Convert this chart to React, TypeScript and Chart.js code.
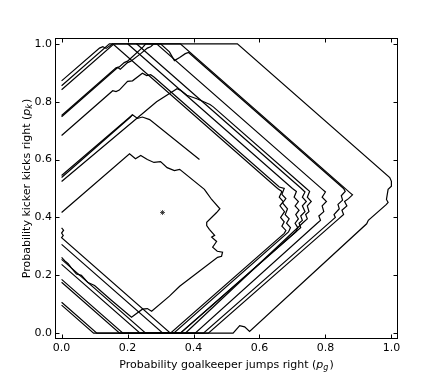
import React, { useEffect, useRef } from 'react';
import { Chart, registerables } from 'chart.js';
Chart.register(...registerables);

type P = [number, number];

const xTicks = [0, 0.2, 0.4, 0.6, 0.8, 1.0];
const yTicks = [0, 0.2, 0.4, 0.6, 0.8, 1.0];
const xLabel = 'Probability goalkeeper jumps right (';
const xSym = ['p', 'g'];
const yLabel = 'Probability kicker kicks right (';
const ySym = ['p', 'k'];

const equilibrium: P[] = [[0.306, 0.417]];

const path1: P[] = [[0, 0.855], [0.145, 1.0], [0.533, 1.0], [0.995, 0.538], [1.0, 0.525], [1.0, 0.508], [0.99, 0.497], [0.985, 0.462], [0.99, 0.452], [0.985, 0.445], [0.93, 0.39], [0.925, 0.378], [0.57, 0.006], [0.555, 0.022], [0.54, 0.026], [0.52, 0.0], [0.33, 0.0], [0, 0.33], [0.005, 0.338], [0, 0.346], [0.006, 0.356], [0, 0.364]];
const path2: P[] = [[0, 0.872], [0.115, 0.985], [0.125, 0.99], [0.135, 0.984], [0.155, 1.0], [0.655, 0.5], [0.668, 0.49], [0.66, 0.47], [0.672, 0.455], [0.662, 0.44], [0.676, 0.42], [0.664, 0.4], [0.675, 0.385], [0.668, 0.37], [0.68, 0.355], [0.675, 0.345], [0.33, 0.0], [0.238, 0.0], [0, 0.238]];
const path3: P[] = [[0, 0.841], [0.159, 1.0], [0.36, 1.0], [0.875, 0.485], [0.882, 0.478], [0.87, 0.465], [0.858, 0.455], [0.865, 0.44], [0.85, 0.425], [0.855, 0.41], [0.84, 0.395], [0.445, 0.0], [0.307, 0.0], [0, 0.307]];
const path4: P[] = [[0, 0.748], [0.17, 0.918], [0.178, 0.912], [0.2, 0.935], [0.21, 0.94], [0.24, 0.966], [0.26, 0.985], [0.27, 0.99], [0.28, 1.0], [0.3, 1.0], [0.327, 0.972], [0.342, 0.942], [0.358, 0.953], [0.375, 0.966], [0.385, 0.97], [0.855, 0.5], [0.86, 0.49], [0.848, 0.475], [0.852, 0.46], [0.838, 0.445], [0.842, 0.43], [0.826, 0.41], [0.83, 0.4], [0.82, 0.39], [0.43, 0.0], [0.186, 0.0], [0, 0.186]];
const path5: P[] = [[0, 0.752], [0.165, 0.917], [0.175, 0.92], [0.19, 0.935], [0.2, 0.94], [0.248, 0.99], [0.255, 1.0], [0.288, 1.0], [0.79, 0.498], [0.8, 0.488], [0.79, 0.47], [0.803, 0.455], [0.79, 0.44], [0.795, 0.42], [0.78, 0.405], [0.785, 0.39], [0.775, 0.38], [0.405, 0.0], [0.176, 0.0], [0, 0.176]];
const path6: P[] = [[0, 0.683], [0.155, 0.838], [0.165, 0.835], [0.175, 0.84], [0.2, 0.87], [0.215, 0.872], [0.245, 0.898], [0.258, 0.89], [0.27, 0.893], [0.28, 0.885], [0.33, 0.835], [0.66, 0.505], [0.675, 0.5], [0.668, 0.48], [0.68, 0.465], [0.67, 0.45], [0.685, 0.43], [0.678, 0.41], [0.69, 0.395], [0.682, 0.38], [0.694, 0.365], [0.688, 0.35], [0.34, 0.0], [0.107, 0.0], [0, 0.107]];
const path7: P[] = [[0, 0.545], [0.215, 0.755], [0.23, 0.742], [0.245, 0.747], [0.267, 0.738], [0.418, 0.6]];
const path8: P[] = [[0, 0.538], [0.208, 0.746], [0.215, 0.755]];
const path9: P[] = [[0, 0.524], [0.288, 0.8], [0.35, 0.845], [0.36, 0.84], [0.38, 0.822], [0.41, 0.81], [0.45, 0.79], [0.46, 0.782], [0.742, 0.5], [0.752, 0.49], [0.745, 0.47], [0.757, 0.455], [0.745, 0.44], [0.75, 0.42], [0.74, 0.41], [0.745, 0.395], [0.735, 0.385], [0.375, 0.0]];
const path10: P[] = [[0, 0.417], [0.206, 0.62], [0.224, 0.603], [0.24, 0.614], [0.26, 0.6], [0.28, 0.59], [0.3, 0.593], [0.32, 0.572], [0.342, 0.562], [0.358, 0.566], [0.433, 0.497], [0.44, 0.486], [0.455, 0.462], [0.48, 0.43], [0.47, 0.417], [0.44, 0.383], [0.44, 0.372], [0.448, 0.359], [0.464, 0.338], [0.455, 0.332], [0.47, 0.317], [0.458, 0.297], [0.472, 0.283], [0.488, 0.28], [0.485, 0.266], [0.473, 0.262], [0.358, 0.162], [0.327, 0.128], [0.273, 0.076], [0.26, 0.085], [0.245, 0.083], [0.212, 0.055], [0.15, 0.115], [0.1, 0.165], [0.08, 0.175], [0.06, 0.2], [0.045, 0.205], [0.03, 0.225], [0.02, 0.24], [0.01, 0.25], [0, 0.262]];
const path11: P[] = [[0.2, 1.0], [0.7, 0.5], [0.712, 0.49], [0.705, 0.47], [0.718, 0.455], [0.708, 0.44], [0.72, 0.425], [0.71, 0.41], [0.718, 0.395], [0.708, 0.38], [0.716, 0.365], [0.71, 0.35], [0.36, 0.0], [0.097, 0.0], [0, 0.097]];
const path12: P[] = [[0.227, 1.0], [0.727, 0.5], [0.738, 0.488], [0.73, 0.47], [0.742, 0.455], [0.73, 0.44], [0.738, 0.42], [0.725, 0.405], [0.73, 0.39], [0.72, 0.38], [0.725, 0.365], [0.715, 0.355], [0.36, 0.0], [0.255, 0.0], [0, 0.255]];

const paths: P[][] = [path1, path2, path3, path4, path5, path6, path7, path8, path9, path10, path11, path12];

const FONT = '"DejaVu Sans", sans-serif';

function drawMixed(ctx: CanvasRenderingContext2D, text: string, sym: string[], cx: number, cy: number) {
  ctx.font = `11px ${FONT}`;
  const w1 = ctx.measureText(text).width;
  ctx.font = `italic 11px ${FONT}`;
  const w2 = ctx.measureText(sym[0]).width;
  ctx.font = `italic 8px ${FONT}`;
  const w3 = ctx.measureText(sym[1]).width;
  ctx.font = `11px ${FONT}`;
  const w4 = ctx.measureText(')').width;
  const total = w1 + w2 + w3 + w4 + 1;
  let x = cx - total / 2;
  ctx.textBaseline = 'middle';
  ctx.textAlign = 'left';
  ctx.font = `11px ${FONT}`;
  ctx.fillText(text, x, cy);
  x += w1;
  ctx.font = `italic 11px ${FONT}`;
  ctx.fillText(sym[0], x, cy);
  x += w2;
  ctx.font = `italic 8px ${FONT}`;
  ctx.fillText(sym[1], x, cy + 3);
  x += w3 + 1;
  ctx.font = `11px ${FONT}`;
  ctx.fillText(')', x, cy);
}

const framePlugin = {
  id: 'frame',
  afterDraw(chart: any) {
    const { ctx, chartArea: a, scales } = chart;
    ctx.save();
    ctx.strokeStyle = '#000';
    ctx.lineWidth = 1;
    const L = Math.round(a.left) + 0.5;
    const R = Math.round(a.right) - 0.5;
    const T = Math.round(a.top) + 0.5;
    const B = Math.round(a.bottom) - 0.5;
    ctx.strokeRect(L, T, R - L, B - T);
    ctx.beginPath();
    for (const v of xTicks) {
      const px = Math.round(scales.x.getPixelForValue(v)) + 0.5;
      ctx.moveTo(px, B); ctx.lineTo(px, B - 4);
      ctx.moveTo(px, T); ctx.lineTo(px, T + 4);
    }
    for (const v of yTicks) {
      const py = Math.round(scales.y.getPixelForValue(v)) + 0.5;
      ctx.moveTo(L, py); ctx.lineTo(L + 4, py);
      ctx.moveTo(R, py); ctx.lineTo(R - 4, py);
    }
    ctx.stroke();
    ctx.fillStyle = '#000';
    drawMixed(ctx, xLabel, xSym, (a.left + a.right) / 2, 365);
    ctx.translate(27, (a.top + a.bottom) / 2);
    ctx.rotate(-Math.PI / 2);
    drawMixed(ctx, yLabel, ySym, 0, 0);
    ctx.restore();
  },
};

export default function App() {
  const ref = useRef<HTMLCanvasElement | null>(null);
  useEffect(() => {
    if (!ref.current) return;
    const datasets: any[] = paths.map((p) => ({
      data: p.map(([x, y]) => ({ x, y })),
      showLine: true,
      borderColor: '#000',
      borderWidth: 1.2,
      pointRadius: 0,
      fill: false,
      tension: 0,
    }));
    datasets.push({
      data: equilibrium.map(([x, y]) => ({ x, y })),
      showLine: false,
      pointStyle: 'star',
      pointRadius: 2.5,
      borderColor: '#222',
      borderWidth: 0.8,
      backgroundColor: '#222',
    });
    const chart = new Chart(ref.current, {
      type: 'scatter',
      data: { datasets },
      options: {
        animation: false,
        responsive: false,
        maintainAspectRatio: false,
        layout: { padding: { top: 38, right: 44, left: 0, bottom: 0 } },
        plugins: { legend: { display: false }, tooltip: { enabled: false } },
        scales: {
          x: {
            type: 'linear',
            min: -0.02,
            max: 1.02,
            grid: { display: false, drawTicks: false },
            border: { display: false },
            afterBuildTicks: (s: any) => { s.ticks = xTicks.map((v) => ({ value: v })); },
            afterFit: (s: any) => { s.height = 38; },
            ticks: { color: '#000', font: { family: FONT, size: 11 }, padding: 3, callback: (v: any) => Number(v).toFixed(1) },
          },
          y: {
            type: 'linear',
            min: -0.02,
            max: 1.02,
            grid: { display: false, drawTicks: false },
            border: { display: false },
            afterBuildTicks: (s: any) => { s.ticks = yTicks.map((v) => ({ value: v })); },
            afterFit: (s: any) => { s.width = 55; },
            ticks: { color: '#000', font: { family: FONT, size: 11 }, padding: 3, callback: (v: any) => Number(v).toFixed(1) },
          },
        },
      },
      plugins: [framePlugin],
    });
    return () => chart.destroy();
  }, []);
  return (
    <div style={{ position: 'fixed', left: 0, top: 0, width: 442, height: 377, background: '#fff' }}>
      <canvas ref={ref} width={442} height={377} />
    </div>
  );
}
